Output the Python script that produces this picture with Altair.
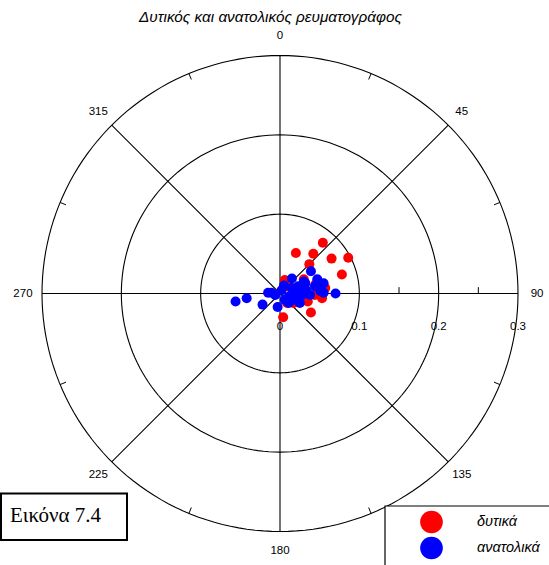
import altair as alt
import numpy as np
import pandas as pd

TITLE = "Δυτικός και ανατολικός ρευματογράφος"
FIGURE_LABEL = "Εικόνα 7.4"

# Current vectors of each meter, as (east, north) components
west_east = [0.054, 0.020, 0.042, 0.065, 0.086, 0.037, 0.078, 0.006, 0.017,
             0.035, 0.039, 0.004, 0.057, 0.030, 0.044, 0.053, 0.009, 0.012,
             0.025, 0.045]
west_north = [0.064, 0.051, 0.050, 0.044, 0.045, 0.037, 0.024, 0.017, -0.012,
              -0.010, -0.024, -0.030, 0.007, 0.018, -0.002, -0.006, -0.012,
              0.008, 0.004, 0.012]

east_east = [-0.056, -0.042, -0.022, -0.003, -0.011, 0.070, 0.039, 0.015,
             0.047, 0.055, 0.032, 0.023, 0.055, 0.038, 0.002, 0.011, 0.019,
             0.006, 0.028, 0.044, 0.015, -0.006, 0.030, 0.051, -0.015, 0.020,
             0.033, 0.005, 0.025, 0.011]
east_north = [-0.010, -0.006, -0.014, -0.017, 0.001, 0.000, 0.028, 0.019,
              0.018, 0.013, 0.013, 0.009, 0.001, -0.002, 0.004, -0.004,
              -0.008, -0.008, -0.002, 0.009, 0.007, -0.002, 0.015, 0.003,
              0.001, 0.001, 0.004, 0.010, -0.012, -0.012]

series_names = ["δυτικά", "ανατολικά"]
series_colors = ["#ff0000", "#0000ff"]

# Polar grid
R_MAX = 0.3
ring_radii = [0.1, 0.2, 0.3]
spoke_angles = [0, 45, 90, 135, 180, 225, 270, 315]
angle_labels = ["0", "45", "90", "135", "180", "225", "270", "315"]
minor_angles = [22.5, 67.5, 112.5, 157.5, 202.5, 247.5, 292.5, 337.5]
radius_values = [0, 0.1, 0.2, 0.3]
radius_labels = ["0", "0.1", "0.2", "0.3"]
radius_minor = [0.05, 0.15, 0.25]

SIDE = 476
FONT = "Liberation Sans"

scale = alt.Scale(domain=[-R_MAX, R_MAX], nice=False, zero=False)


def xy(xf="x", yf="y"):
    return dict(x=alt.X(f"{xf}:Q", scale=scale, axis=None),
                y=alt.Y(f"{yf}:Q", scale=scale, axis=None))


def polar(r, deg):
    t = np.radians(deg)
    return r * np.sin(t), r * np.cos(t)


# rings
ring_rows = []
for r in ring_radii:
    for deg in range(0, 361, 2):
        px, py = polar(r, deg)
        ring_rows.append({"r": r, "t": deg, "x": px, "y": py})
rings = alt.Chart(pd.DataFrame(ring_rows)).mark_line(
    color="black", strokeWidth=1.1
).encode(**xy(), detail="r:N", order="t:Q")

# spokes from the centre to the outer ring
spoke_df = pd.DataFrame({"a": spoke_angles})
spoke_df["x"] = 0.0
spoke_df["y"] = 0.0
spoke_df["x2"], spoke_df["y2"] = polar(R_MAX, spoke_df["a"].to_numpy())
spokes = alt.Chart(spoke_df).mark_rule(color="black", strokeWidth=1.1).encode(
    **xy(), x2="x2:Q", y2="y2:Q")

# small inward ticks on the outer ring
tick_df = pd.DataFrame({"a": minor_angles})
tick_df["x"], tick_df["y"] = polar(R_MAX, tick_df["a"].to_numpy())
tick_df["x2"], tick_df["y2"] = polar(R_MAX - 0.008, tick_df["a"].to_numpy())
outer_ticks = alt.Chart(tick_df).mark_rule(color="black", strokeWidth=1).encode(
    **xy(), x2="x2:Q", y2="y2:Q")

# minor ticks along the 90° radius
rt_df = pd.DataFrame({"x": radius_minor})
rt_df["y"] = 0.0
rt_df["y2"] = 0.008
radius_ticks = alt.Chart(rt_df).mark_rule(color="black", strokeWidth=1).encode(
    **xy(), y2="y2:Q")

# angle labels
al_df = pd.DataFrame({"a": spoke_angles, "label": angle_labels})
al_df["x"], al_df["y"] = polar(0.324, al_df["a"].to_numpy())
angle_text = alt.Chart(al_df).mark_text(
    font=FONT, fontSize=11.5, color="black", align="center", baseline="middle"
).encode(**xy(), text="label:N")

# radius labels under the 90° radius
rl_df = pd.DataFrame({"x": radius_values, "label": radius_labels})
rl_df["y"] = -0.0455
radius_text = alt.Chart(rl_df).mark_text(
    font=FONT, fontSize=11.5, color="black", align="center", baseline="alphabetic"
).encode(**xy(), text="label:N")

# observations
pts = pd.concat([
    pd.DataFrame({"x": west_east, "y": west_north, "series": series_names[0], "k": 0}),
    pd.DataFrame({"x": east_east, "y": east_north, "series": series_names[1], "k": 1}),
], ignore_index=True)
points = alt.Chart(pts).mark_circle(size=100, opacity=1).encode(
    **xy(),
    color=alt.Color(
        "series:N",
        scale=alt.Scale(domain=series_names, range=series_colors),
        legend=alt.Legend(
            orient="none", legendX=378, legendY=455, title=None, padding=0,
            symbolType="circle", symbolSize=515, symbolStrokeWidth=0,
            symbolOpacity=1, labelFont=FONT, labelFontSize=14.5,
            labelFontStyle="italic", labelColor="black", labelOffset=34,
            rowPadding=3, direction="vertical",
        ),
    ),
    order="k:Q",
)

one = pd.DataFrame({"label": [FIGURE_LABEL]})

legend_box = alt.Chart(one).mark_rect(
    fill="white", stroke="black", strokeWidth=1.2
).encode(x=alt.value(343), x2=alt.value(560), y=alt.value(450.5), y2=alt.value(540))

label_box = alt.Chart(one).mark_rect(
    fill="white", stroke="black", strokeWidth=2
).encode(x=alt.value(-41), x2=alt.value(85), y=alt.value(438), y2=alt.value(484.5))

label_text = alt.Chart(one).mark_text(
    font="Liberation Serif", fontSize=21, color="black", align="left",
    baseline="alphabetic"
).encode(x=alt.value(-32), y=alt.value(466.5), text="label:N")

title_text = alt.Chart(pd.DataFrame({"t": [TITLE]})).mark_text(
    font=FONT, fontSize=15.3, fontStyle="italic", color="black", align="center",
    baseline="alphabetic"
).encode(x=alt.value(228.5), y=alt.value(-33.5), text="t:N")

chart = alt.layer(
    rings, spokes, outer_ticks, radius_ticks, angle_text, radius_text,
    legend_box, label_box, label_text, points, title_text,
).properties(
    width=SIDE, height=SIDE,
    autosize=alt.AutoSizeParams(type="none"),
    padding={"left": 42, "top": 55.5, "right": 31, "bottom": 33.5},
).configure_view(stroke="transparent")

chart.save("out.html", embed_options={"renderer": "svg", "actions": False})
